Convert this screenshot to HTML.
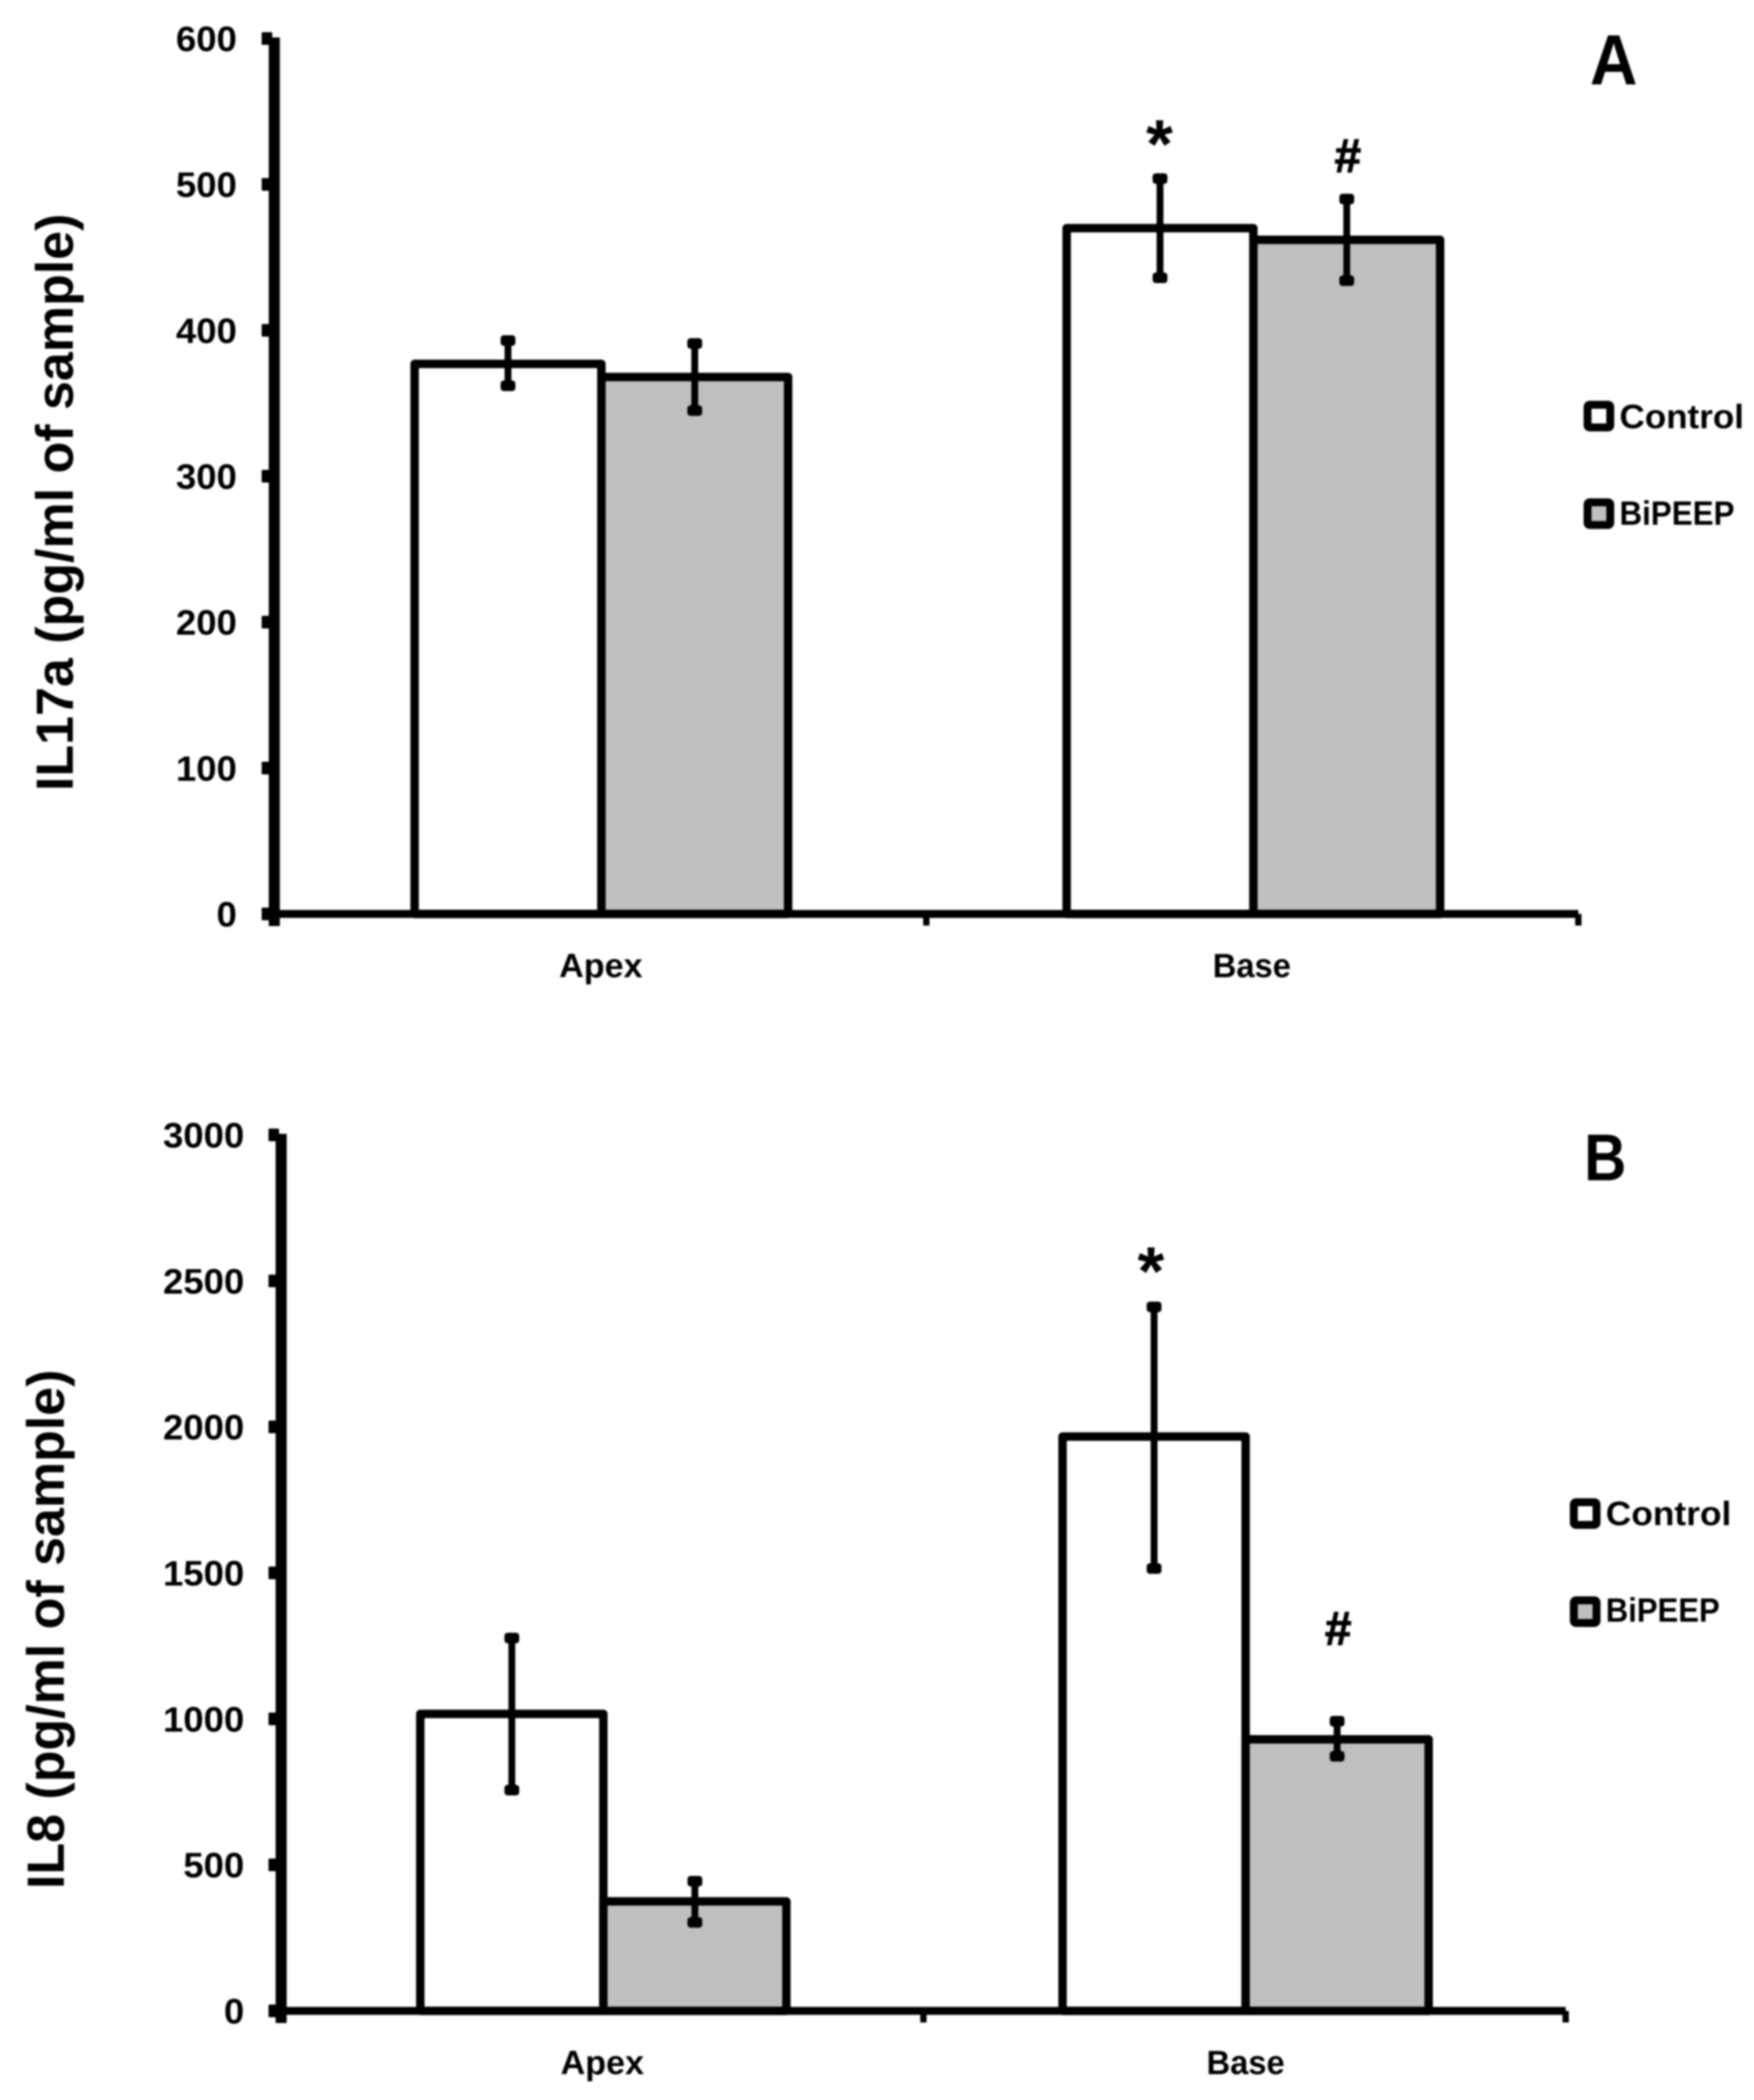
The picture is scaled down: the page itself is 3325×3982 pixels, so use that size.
<!DOCTYPE html>
<html lang="en">
<head>
<meta charset="utf-8">
<title>IL17a and IL8 in apex and base</title>
<style>
html,body{margin:0;padding:0;background:#fff;width:3325px;height:3982px;overflow:hidden}
svg{display:block;filter:blur(1.8px)}
text{font-family:"Liberation Sans",sans-serif;font-weight:700;fill:#000}
</style>
</head>
<body>
<svg id="fig" xmlns="http://www.w3.org/2000/svg" width="3325" height="3982" viewBox="0 0 3325 3982">
<rect x="0" y="0" width="3325" height="3982" fill="#ffffff"></rect>
</svg>
<script>
var categories = ['Apex', 'Base'];
var seriesNames = ['Control', 'BiPEEP'];

var il17Ticks = [0, 100, 200, 300, 400, 500, 600];
var il17Control = [377, 470];
var il17ControlHigh = [393, 504];
var il17ControlLow = [362, 436];
var il17Bipeep = [368, 462];
var il17BipeepHigh = [391, 490];
var il17BipeepLow = [345, 434];
var il17ControlMarkLevel = [null, 538];
var il17BipeepMarkLevel = [null, 520];

var il8Ticks = [0, 500, 1000, 1500, 2000, 2500, 3000];
var il8Control = [1017, 1967];
var il8ControlHigh = [1277, 2411];
var il8ControlLow = [756, 1515];
var il8Bipeep = [375, 930];
var il8BipeepHigh = [444, 992];
var il8BipeepLow = [303, 872];
var il8ControlMarkLevel = [null, 2585];
var il8BipeepMarkLevel = [null, 1311];

var SVGNS = 'http://www.w3.org/2000/svg';
var fig = document.getElementById('fig');

function make(parent, tag, attrs, txt) {
  var n = document.createElementNS(SVGNS, tag);
  for (var k in attrs) { n.setAttribute(k, attrs[k]); }
  if (txt !== undefined) { n.textContent = txt; }
  parent.appendChild(n);
  return n;
}

function drawPanel(p) {
  var group = make(fig, 'g', {});
  
  

  var maxTick = p.ticks[p.ticks.length - 1];
  function yScale(v) { return p.y0 - (v / maxTick) * (p.y0 - p.yTop); }
  var bandW = (p.xRight - p.xAxis) / categories.length;
  function bandCenter(i) { return p.xAxis + (i + 0.5) * bandW + 2; }
  function barX(i, s) { return bandCenter(i) + (s - 1) * p.barW; }

  // tick stubs and labels
  p.ticks.forEach(function (t) {
    var y = yScale(t);
    var stub = make(group, 'rect', { x: p.xAxis - 24, y: y - 12, width: 20, height: 24, rx: 2, fill: '#000' });
    
    
    var lab = make(group, 'text', {
      x: p.labelRight, y: y + 24, 'font-size': 67, 'text-anchor': 'end',
      textLength: String(t).length * 38.5, lengthAdjust: 'spacingAndGlyphs'
    }, String(t));
    
    
  });

  // bars
  var values = [p.control, p.bipeep];
  var highs = [p.controlHigh, p.bipeepHigh];
  var lows = [p.controlLow, p.bipeepLow];
  var fills = ['#ffffff', '#bfbfbf'];
  [0, 1].forEach(function (s) {
    categories.forEach(function (c, i) {
      var top = yScale(values[s][i]);
      var bar = make(group, 'rect', {
        x: barX(i, s), y: top, width: p.barW, height: p.y0 - top,
        fill: fills[s], stroke: '#000', 'stroke-width': 16, 'stroke-linejoin': 'round'
      });
      
      
    });
  });

  // axes
  var yAxis = make(group, 'rect', { x: p.xAxis - 10.5, y: p.yTop - 2, width: 21, height: p.y0 - p.yTop + 25, fill: '#000' });
  
  
  var xAxis = make(group, 'rect', { x: p.xAxis, y: p.y0 - 7.5, width: p.xRight - p.xAxis, height: 15, fill: '#000' });
  
  
  [1, 2].forEach(function (k) {
    var tx = p.xAxis + k * bandW;
    var mark = make(group, 'rect', { x: tx - 6, y: p.y0, width: 12, height: 22, fill: '#000' });
    
    
  });

  // category labels
  categories.forEach(function (c, i) {
    var lab = make(group, 'text', {
      x: bandCenter(i) + p.catShift[i], y: p.catBase, 'font-size': 64, 'text-anchor': 'middle',
      textLength: p.catLen[i], lengthAdjust: 'spacingAndGlyphs'
    }, c);
    
    
  });

  // error bars
  [0, 1].forEach(function (s) {
    categories.forEach(function (c, i) {
      var cx = barX(i, s) + p.barW / 2;
      var hi = yScale(highs[s][i]);
      var lo = yScale(lows[s][i]);
      var stem = make(group, 'rect', { x: cx - 6.5, y: hi, width: 13, height: lo - hi, fill: '#000' });
      
      
      [hi, lo].forEach(function (cy) {
        var cap = make(group, 'rect', { x: cx - 14, y: cy - 10, width: 28, height: 20, rx: 6, fill: '#000' });
        
        
      });
    });
  });

  // significance marks
  categories.forEach(function (c, i) {
    if (p.controlMark[i] !== null) {
      var star = make(group, 'text', {
        x: barX(i, 0) + p.barW / 2 - p.starShift, y: yScale(p.controlMark[i]) + 73, 'font-size': 130, 'text-anchor': 'middle'
      }, '*');
      
      
    }
    if (p.bipeepMark[i] !== null) {
      var hash = make(group, 'text', {
        x: barX(i, 1) + p.barW / 2 + 2, y: yScale(p.bipeepMark[i]) + 32, 'font-size': 90, 'text-anchor': 'middle',
        stroke: '#000', 'stroke-width': 2
      }, '#');
      
      
    }
  });

  // axis title
  var title = make(group, 'text', {
    x: 0, y: 0, 'font-size': 99, 'text-anchor': 'start',
    textLength: p.titleLen, lengthAdjust: 'spacingAndGlyphs',
    transform: 'translate(' + p.titleX + ',' + p.titleBottom + ') rotate(-90)'
  }, p.title);
  
  

  // panel letter
  var letter = make(group, 'text', {
    x: p.letterX, y: p.letterY, 'font-size': p.letterSize,
    textLength: p.letterLen, lengthAdjust: 'spacingAndGlyphs'
  }, p.letter);
  
  

  // legend
  seriesNames.forEach(function (name, s) {
    var entry = make(group, 'g', {});
    
    
    var sw = make(entry, 'rect', {
      x: p.legendX + 7.5, y: p.legendY[s] + 7.5, width: 43, height: 43, rx: 4,
      fill: fills[s], stroke: '#000', 'stroke-width': 15
    });
    
    
    var lab = make(entry, 'text', {
      x: p.legendTextX, y: p.legendBase[s], 'font-size': 64,
      textLength: p.legendLen[s], lengthAdjust: 'spacingAndGlyphs'
    }, name);
    
    
  });
}

drawPanel({
  key: 'il17a', letter: 'A', title: 'IL17a (pg/ml of sample)',
  ticks: il17Ticks, control: il17Control, bipeep: il17Bipeep,
  controlHigh: il17ControlHigh, controlLow: il17ControlLow,
  bipeepHigh: il17BipeepHigh, bipeepLow: il17BipeepLow,
  controlMark: il17ControlMarkLevel, bipeepMark: il17BipeepMarkLevel,
  xAxis: 520, xRight: 2992, y0: 1733, yTop: 73, barW: 354, labelRight: 449,
  catBase: 1853, catShift: [-1, -3], catLen: [158, 148], starShift: 1,
  titleX: 138, titleBottom: 1500, titleLen: 1095,
  letterX: 3014, letterY: 160, letterSize: 135, letterLen: 90,
  legendX: 3002, legendY: [760, 945], legendTextX: 3070, legendBase: [812, 995], legendLen: [236, 218]
});

drawPanel({
  key: 'il8', letter: 'B', title: 'IL8 (pg/ml of sample)',
  ticks: il8Ticks, control: il8Control, bipeep: il8Bipeep,
  controlHigh: il8ControlHigh, controlLow: il8ControlLow,
  bipeepHigh: il8BipeepHigh, bipeepLow: il8BipeepLow,
  controlMark: il8ControlMarkLevel, bipeepMark: il8BipeepMarkLevel,
  xAxis: 533, xRight: 2968, y0: 3813, yTop: 2152, barW: 347, labelRight: 463,
  catBase: 3933, catShift: [-2, 0], catLen: [158, 148], starShift: 6,
  titleX: 121, titleBottom: 3582, titleLen: 985,
  letterX: 3003, letterY: 2238, letterSize: 125, letterLen: 80,
  legendX: 2976, legendY: [2841, 3027], legendTextX: 3044, legendBase: [2892, 3075], legendLen: [238, 216]
});
</script>
</body>
</html>
